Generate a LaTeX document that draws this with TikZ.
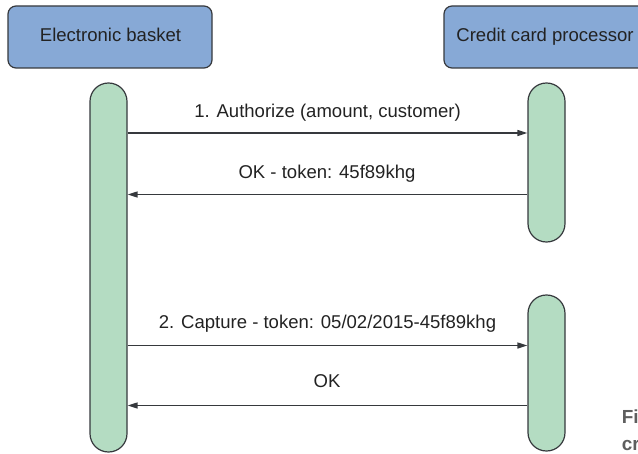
\documentclass[tikz,border=0pt]{standalone}
\usepackage{fontspec}
\setmainfont{Liberation Sans}
\usetikzlibrary{arrows.meta}
\definecolor{boxblue}{HTML}{87A9D6}
\definecolor{barGreen}{HTML}{B4DCC2}
\definecolor{strokeC}{HTML}{36393D}
\definecolor{txtC}{HTML}{222222}
\definecolor{capC}{HTML}{5E5E5E}
\tikzset{
  actor/.style={draw=strokeC, line width=0.9pt, fill=boxblue, rounded corners=6pt,
    minimum width=153pt, minimum height=46.5pt, inner sep=0pt},
  bar/.style={draw=strokeC, line width=0.9pt, fill=barGreen, rounded corners=13.8pt,
    minimum width=27.75pt, inner sep=0pt},
  msg/.style={draw=strokeC, line width=0.95pt, -{Triangle[length=7.5pt,width=4.5pt]}},
  lbl/.style={font=\fontsize{13.9}{16}\selectfont, text=txtC, anchor=base, inner sep=0pt},
  figcaption/.style={font=\fontsize{14.2}{16}\selectfont\bfseries, text=capC, anchor=base west, inner sep=0pt}
}
\begin{document}
\begin{tikzpicture}[x=0.75pt,y=-0.75pt]
\useasboundingbox (0,0) rectangle (638,453);
% actors
\node[actor] (eb) at (110,37) {};
\node[actor] (cc) at (546,37) {};
\node[lbl] (ebl) at (110.5,42) {Electronic basket};
\node[lbl] (ccl) at (545,42) {Credit card processor};
% activation bars
\node[bar, minimum height=276.75pt] (lb) at (108.5,267.5) {};
\node[bar, minimum height=119.25pt] (rb1) at (546.5,162.5) {};
\node[bar, minimum height=117pt] (rb2) at (546.5,373) {};
% messages
\coordinate (y1) at (0,133);
\coordinate (y2) at (0,194.5);
\coordinate (y3) at (0,345.5);
\coordinate (y4) at (0,405.5);
\draw[msg] (lb.east |- y1) -- (rb1.west |- y1);
\draw[msg] (rb1.west |- y2) -- (lb.east |- y2);
\draw[msg] (lb.east |- y3) -- (rb2.west |- y3);
\draw[msg] (rb2.west |- y4) -- (lb.east |- y4);
% labels
\node[lbl] (m1) at (327.5,117) {1. Authorize (amount, customer)};
\node[lbl] (m2) at (327,178) {OK - token: 45f89khg};
\node[lbl] (m3) at (327.5,328) {2. Capture - token: 05/02/2015-45f89khg};
\node[lbl] (m4) at (327,387.5) {OK};
% truncated caption
\node[figcaption] (c1) at (621.5,423.5) {Fi};
\node[figcaption] (c2) at (621.5,450.5) {cr};
\end{tikzpicture}
\end{document}
